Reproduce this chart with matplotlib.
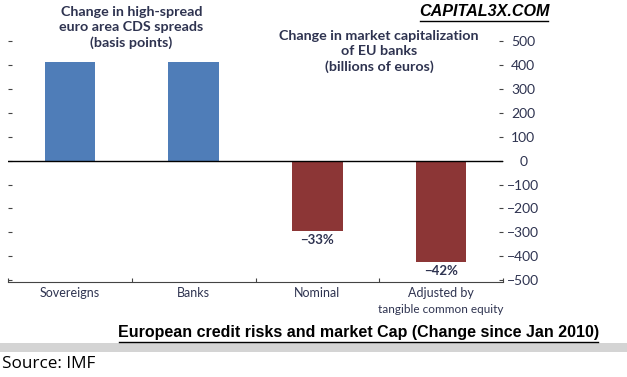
import matplotlib
matplotlib.use("Agg")
import matplotlib.pyplot as plt

categories = ["Sovereigns", "Banks", "Nominal", "Adjusted by"]
values = [415, 413, -296, -424]
bar_labels = ["", "", "\u221233%", "\u221242%"]
ytick_vals = [500, 400, 300, 200, 100, 0, -100, -200, -300, -400, -500]
ytick_labels = ["500", "400", "300", "200", "100", "0", "\u2212100", "\u2212200",
                "\u2212300", "\u2212400", "\u2212500"]
colors = ["#4f7db8", "#4f7db8", "#8c3636", "#8c3636"]

txt = "#2e3350"
plt.rcParams['font.family'] = ['Lato', 'DejaVu Sans']

fig = plt.figure(figsize=(6.27, 3.77), dpi=100)
W, H = 627, 377
ax = fig.add_axes([8 / W, 1 - 282 / H, 495 / W, 282 / H])

x = [i + 0.5 for i in range(len(values))]
ax.bar(x, values, width=0.41, color=colors, zorder=2)
ax.axhline(0, color="black", lw=1.0, zorder=3)
ax.set_xlim(0, 4)
ax.set_ylim(-508, 673)

ax.set_xticks([0, 1, 2, 3, 4])
ax.set_xticklabels([])
ax.tick_params(axis="x", direction="in", length=3, color="#444444")
ax.set_yticks(ytick_vals)
ax.tick_params(axis="y", which="both", direction="in", length=3, color="#444444",
               left=True, right=True, labelleft=False, labelright=True,
               labelsize=10, labelcolor=txt, pad=14.5)
ax.set_yticklabels(ytick_labels)
for lab in ax.get_yticklabels():
    lab.set_horizontalalignment("center")

for s in ["top", "left", "right"]:
    ax.spines[s].set_visible(False)
ax.spines["bottom"].set_color("#444444")

for xi, v, lb in zip(x, values, bar_labels):
    if lb:
        ax.text(xi, v - 12, lb, ha="center", va="top", fontsize=9.5,
                fontweight="bold", color=txt)

for xi, c in zip(x, categories):
    ax.text(xi, -530, c, ha="center", va="top", fontsize=9, color=txt,
            transform=ax.transData, clip_on=False)
ax.text(x[3], -600, "tangible common equity", ha="center", va="top", fontsize=8.5,
        color=txt, clip_on=False)

fig.text(131.5 / W, 1 - 6 / H, "Change in high-spread\neuro area CDS spreads\n(basis points)",
         ha="center", va="top", fontsize=10.3, fontweight="bold", color=txt,
         linespacing=1.3)
fig.text(379 / W, 1 - 30 / H, "Change in market capitalization\nof EU banks\n(billions of euros)",
         ha="center", va="top", fontsize=10.3, fontweight="bold", color=txt,
         linespacing=1.3)

fig.text(484 / W, 1 - 12 / H, "CAPITAL3X.COM", ha="center", va="center",
         fontsize=11.6, fontweight="bold", fontstyle="italic",
         family="Liberation Sans", color="black")
fig.add_artist(plt.Line2D([420 / W, 548 / W], [1 - 21 / H, 1 - 21 / H],
                          color="black", lw=1))

fig.text(358.5 / W, 1 - 333 / H,
         "European credit risks and market Cap (Change since Jan 2010)",
         ha="center", va="center", fontsize=11.5, fontweight="bold",
         family="Liberation Sans", color="black")
fig.add_artist(plt.Line2D([119 / W, 598 / W], [1 - 341.5 / H, 1 - 341.5 / H],
                          color="black", lw=1))

fig.add_artist(plt.Rectangle((0, 1 - 352 / H), 1, 9 / H, transform=fig.transFigure,
                             color="#d4d4d4", lw=0))

fig.text(2 / W, 1 - 364 / H, "Source: IMF", ha="left", va="center",
         fontsize=12.3, family="Open Sans", color="black")

fig.savefig("out.png", dpi=100)
